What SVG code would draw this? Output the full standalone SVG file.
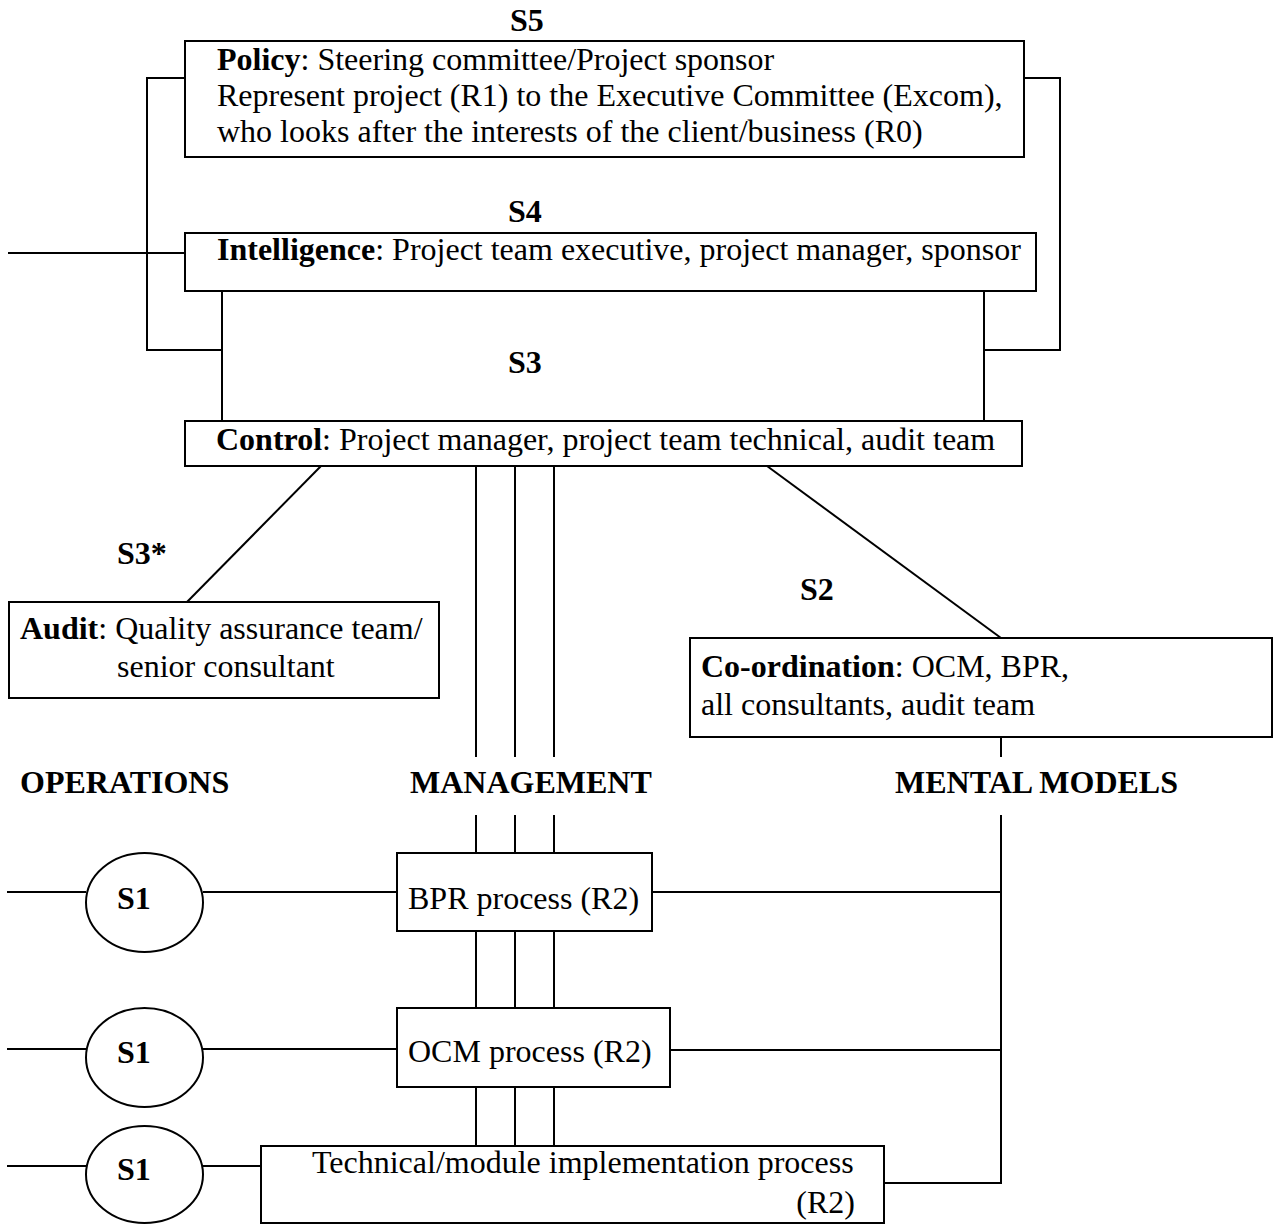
<svg xmlns="http://www.w3.org/2000/svg" width="1273" height="1225" viewBox="0 0 1273 1225">
  <style>
    text { font-family: "Liberation Serif", "Times New Roman", serif; font-size: 32px; fill: #000; }
    .b { font-weight: bold; }
    .box { fill: #fff; stroke: #000; stroke-width: 2; }
    .wire { fill: none; stroke: #000; stroke-width: 2; }
  </style>
  <rect width="1273" height="1225" fill="#fff"/>

  <!-- connectors -->
  <g id="connectors" class="wire">
    <!-- S5 side brackets down to S3 -->
    <polyline points="185,78 147,78 147,350 222,350"/>
    <polyline points="1024,78 1060,78 1060,350 984,350"/>
    <!-- environment link into S4 -->
    <line x1="8" y1="253" x2="185" y2="253"/>
    <!-- S4 to S3 -->
    <line x1="222" y1="291" x2="222" y2="421"/>
    <line x1="984" y1="291" x2="984" y2="421"/>
    <!-- S3 to S3* and S2 -->
    <line x1="321" y1="466" x2="187" y2="602"/>
    <line x1="767" y1="466" x2="1001" y2="638"/>
    <!-- management channels -->
    <line x1="476" y1="466" x2="476" y2="757"/>
    <line x1="515" y1="466" x2="515" y2="757"/>
    <line x1="554" y1="466" x2="554" y2="757"/>
    <line x1="476" y1="815" x2="476" y2="853"/>
    <line x1="515" y1="815" x2="515" y2="853"/>
    <line x1="554" y1="815" x2="554" y2="853"/>
    <line x1="476" y1="931" x2="476" y2="1008"/>
    <line x1="515" y1="931" x2="515" y2="1008"/>
    <line x1="554" y1="931" x2="554" y2="1008"/>
    <line x1="476" y1="1087" x2="476" y2="1146"/>
    <line x1="515" y1="1087" x2="515" y2="1146"/>
    <line x1="554" y1="1087" x2="554" y2="1146"/>
    <!-- S2 coordination trunk -->
    <line x1="1001" y1="737" x2="1001" y2="757"/>
    <polyline points="1001,815 1001,1183 884,1183"/>
    <line x1="652" y1="892" x2="1001" y2="892"/>
    <line x1="670" y1="1050" x2="1001" y2="1050"/>
    <!-- operations links -->
    <line x1="7" y1="892" x2="86" y2="892"/>
    <line x1="203" y1="892" x2="397" y2="892"/>
    <line x1="7" y1="1049" x2="86" y2="1049"/>
    <line x1="203" y1="1049" x2="397" y2="1049"/>
    <line x1="7" y1="1166" x2="86" y2="1166"/>
    <line x1="203" y1="1166" x2="261" y2="1166"/>
  </g>

  <!-- S5 policy -->
  <g id="s5-policy">
    <text class="b" x="510" y="31">S5</text>
    <rect class="box" x="185" y="41" width="839" height="116"/>
    <text x="217" y="70"><tspan class="b">Policy</tspan>: Steering committee/Project sponsor</text>
    <text x="217" y="106">Represent project (R1) to the Executive Committee (Excom),</text>
    <text x="217" y="142">who looks after the interests of the client/business (R0)</text>
  </g>

  <!-- S4 intelligence -->
  <g id="s4-intelligence">
    <text class="b" x="508" y="222">S4</text>
    <rect class="box" x="185" y="233" width="851" height="58"/>
    <text x="217" y="260"><tspan class="b">Intelligence</tspan>: Project team executive, project manager, sponsor</text>
  </g>

  <!-- S3 control -->
  <g id="s3-control">
    <text class="b" x="508" y="373">S3</text>
    <rect class="box" x="185" y="421" width="837" height="45"/>
    <text x="216" y="450"><tspan class="b">Control</tspan>: Project manager, project team technical, audit team</text>
  </g>

  <!-- S3* audit -->
  <g id="s3star-audit">
    <text class="b" x="117" y="564">S3*</text>
    <rect class="box" x="9" y="602" width="430" height="96"/>
    <text x="20" y="639"><tspan class="b">Audit</tspan>: Quality assurance team/</text>
    <text x="117" y="677">senior consultant</text>
  </g>

  <!-- S2 co-ordination -->
  <g id="s2-coordination">
    <text class="b" x="800" y="600">S2</text>
    <rect class="box" x="690" y="638" width="582" height="99"/>
    <text x="701" y="677"><tspan class="b">Co-ordination</tspan>: OCM, BPR,</text>
    <text x="701" y="715">all consultants, audit team</text>
  </g>

  <!-- column headings -->
  <g id="headings">
    <text class="b" x="20" y="793">OPERATIONS</text>
    <text class="b" x="410" y="793">MANAGEMENT</text>
    <text class="b" x="895" y="793">MENTAL MODELS</text>
  </g>

  <!-- S1 operational units -->
  <g id="s1-bpr">
    <ellipse class="box" cx="144.5" cy="902.5" rx="58.5" ry="49.5"/>
    <text class="b" x="117" y="909">S1</text>
  </g>
  <g id="s1-ocm">
    <ellipse class="box" cx="144.5" cy="1057.5" rx="58.5" ry="49.5"/>
    <text class="b" x="117" y="1063">S1</text>
  </g>
  <g id="s1-technical">
    <ellipse class="box" cx="144.5" cy="1174.5" rx="58.5" ry="48.5"/>
    <text class="b" x="117" y="1180">S1</text>
  </g>

  <!-- processes -->
  <g id="bpr-process">
    <rect class="box" x="397" y="853" width="255" height="78"/>
    <text x="408" y="909">BPR process (R2)</text>
  </g>
  <g id="ocm-process">
    <rect class="box" x="397" y="1008" width="273" height="79"/>
    <text x="408" y="1062">OCM process (R2)</text>
  </g>
  <g id="technical-process">
    <rect class="box" x="261" y="1146" width="623" height="77"/>
    <text x="312" y="1173">Technical/module implementation process</text>
    <text x="855" y="1213" text-anchor="end">(R2)</text>
  </g>
</svg>
